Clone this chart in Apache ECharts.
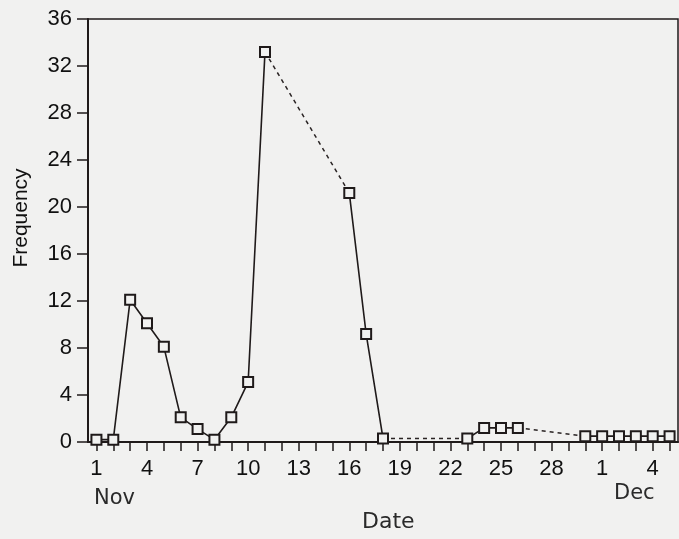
<!DOCTYPE html>
<html>
<head>
<meta charset="utf-8">
<script src="https://cdn.jsdelivr.net/npm/echarts@6/dist/echarts.min.js"></script>
<style>
  html, body { margin: 0; padding: 0; background: #f1f1f0; }
  #chart { width: 679px; height: 539px; }
</style>
</head>
<body>
<div id="chart"></div>
<script>
// ---- data ----
const novDays = [1,2,3,4,5,6,7,8,9,10,11,12,13,14,15,16,17,18,19,20,21,22,23,24,25,26,27,28,29,30];
const decDays = [1,2,3,4,5];
const categories = novDays.map(d => 'Nov ' + d).concat(decDays.map(d => 'Dec ' + d));
// frequency per day (null = no observation)
const frequency = [
  0.2, 0.2, 12.1, 10.1, 8.1, 2.1, 1.1, 0.2, 2.1, 5.1,
  33.2, null, null, null, null, 21.2, 9.2, 0.3, null, null,
  null, null, 0.3, 1.2, 1.2, 1.2, null, null, null, 0.5,
  0.5, 0.5, 0.5, 0.5, 0.5
];
const yMin = 0, yMax = 36, yStep = 4;
const xLabelEvery = 3;

// ---- build dashed gap segments ----
const gapSeries = [];
for (let i = 0; i < frequency.length; i++) {
  if (frequency[i] !== null && i + 1 < frequency.length && frequency[i + 1] === null) {
    let j = i + 1;
    while (j < frequency.length && frequency[j] === null) j++;
    if (j < frequency.length) {
      const seg = frequency.map((v, k) => (k === i || k === j) ? v : null);
      gapSeries.push({
        type: 'line', data: seg, connectNulls: true, showSymbol: false, symbol: 'none',
        lineStyle: { color: '#2a2424', width: 1.5, type: [4, 4] }, z: 1, silent: true
      });
    }
    i = j - 1;
  }
}

const labelFont = 'Liberation Sans';
const chart = echarts.init(document.getElementById('chart'));
const ink = '#1f1a1a';
chart.setOption({
  backgroundColor: '#f1f1f0',
  animation: false,
  grid: { left: 88, right: 1, top: 19, bottom: 97, show: true, borderColor: ink, borderWidth: 1.5, backgroundColor: 'transparent' },
  xAxis: {
    type: 'category',
    data: categories,
    boundaryGap: true,
    axisLine: { lineStyle: { color: ink, width: 2 } },
    axisTick: { show: true, interval: 0, alignWithLabel: true, length: 9, lineStyle: { color: ink, width: 1.5 } },
    axisLabel: {
      interval: xLabelEvery - 1,
      margin: 16,
      color: '#111',
      fontFamily: labelFont,
      fontSize: 22,
      formatter: v => v.split(' ')[1]
    },
    splitLine: { show: false }
  },
  yAxis: {
    type: 'value',
    min: yMin, max: yMax, interval: yStep,
    axisLine: { show: true, lineStyle: { color: ink, width: 2 } },
    axisTick: { show: true, length: 11, lineStyle: { color: ink, width: 1.5 } },
    axisLabel: { margin: 16, color: '#111', fontFamily: labelFont, fontSize: 22 },
    splitLine: { show: false }
  },
  graphic: [
    { type: 'text', left: 94, top: 488, style: { text: 'Nov', fontFamily: 'DejaVu Sans', fontSize: 21, fill: '#2a2a2a' } },
    { type: 'text', left: 614, top: 483, style: { text: 'Dec', fontFamily: 'DejaVu Sans', fontSize: 21, fill: '#2a2a2a' } },
    { type: 'text', left: 362, top: 511, style: { text: 'Date', fontFamily: 'DejaVu Sans', fontSize: 22, fill: '#2a2a2a' } },
    { type: 'text', x: 21, y: 218, rotation: Math.PI / 2,
      style: { text: 'Frequency', fontFamily: labelFont, fontSize: 21, fill: '#111', align: 'center', verticalAlign: 'middle' } }
  ],
  series: gapSeries.concat([{
    type: 'line',
    data: frequency,
    connectNulls: false,
    symbol: 'rect',
    symbolSize: 10,
    showAllSymbol: true,
    lineStyle: { color: ink, width: 1.6 },
    itemStyle: { color: '#f1f1f0', borderColor: ink, borderWidth: 2 },
    z: 3
  }])
});
</script>
</body>
</html>
